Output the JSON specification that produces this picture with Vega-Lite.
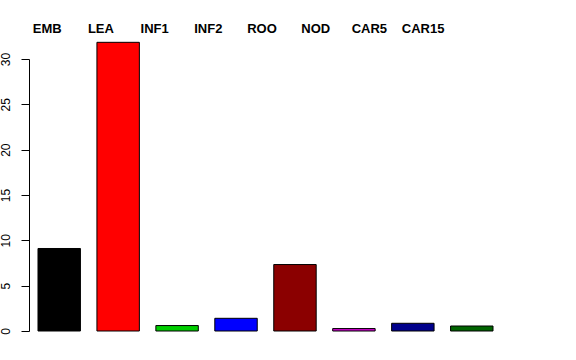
{
  "$schema": "https://vega.github.io/schema/vega-lite/v6.json",
  "autosize": {"type": "none"},
  "width": 473,
  "height": 272,
  "padding": {"left": 29, "top": 59, "right": 74, "bottom": 29},
  "background": "white",
  "config": {
    "view": {"stroke": null},
    "font": "Liberation Sans"
  },
  "data": {
    "values": [
      {"name": "EMB", "value": 9.1, "color": "#000000"},
      {"name": "LEA", "value": 31.84, "color": "#FF0000"},
      {"name": "INF1", "value": 0.6, "color": "#00CD00"},
      {"name": "INF2", "value": 1.4, "color": "#0000FF"},
      {"name": "ROO", "value": 7.33, "color": "#8B0000"},
      {"name": "NOD", "value": 0.27, "color": "#CD00CD"},
      {"name": "CAR5", "value": 0.85, "color": "#00008B"},
      {"name": "CAR15", "value": 0.55, "color": "#006400"}
    ]
  },
  "layer": [
    {
      "mark": {"type": "bar", "stroke": "black", "strokeWidth": 1, "clip": false},
      "encoding": {
        "x": {
          "field": "name", "type": "nominal", "sort": null,
          "scale": {"type": "band", "paddingInner": 0.28, "paddingOuter": 0.1525},
          "axis": null
        },
        "y": {
          "field": "value", "type": "quantitative",
          "scale": {"domain": [0, 30], "nice": false, "zero": true},
          "axis": {
            "title": null,
            "values": [0, 5, 10, 15, 20, 25, 30],
            "grid": false,
            "tickSize": 8,
            "tickColor": "#000000",
            "domainColor": "#000000",
            "labelAngle": 270,
            "labelAlign": "center",
            "labelBaseline": "alphabetic",
            "labelPadding": 12,
            "labelFontSize": 12,
            "labelColor": "#000000",
            "labelFont": "Liberation Sans"
          }
        },
        "fill": {"field": "color", "type": "nominal", "scale": null}
      }
    },
    {
      "mark": {"type": "point", "opacity": 0},
      "encoding": {
        "x": {
          "field": "name", "type": "nominal", "sort": null,
          "scale": {"type": "point", "padding": 0, "range": [17.7, 393.6]},
          "axis": {
            "orient": "top",
            "title": null,
            "domain": false,
            "ticks": false,
            "labelAngle": 0,
            "labelAlign": "center",
            "labelBaseline": "alphabetic",
            "labelPadding": 26.5,
            "labelFontSize": 13,
            "labelFontWeight": "bold",
            "labelColor": "#000000",
            "labelFont": "Liberation Sans"
          }
        }
      }
    }
  ],
  "resolve": {"scale": {"x": "independent"}, "axis": {"x": "independent"}}
}
